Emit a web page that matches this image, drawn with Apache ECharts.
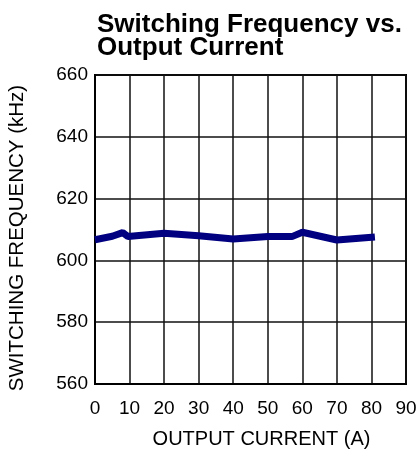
<!DOCTYPE html>
<html>
<head>
<meta charset="utf-8">
<script src="https://cdn.jsdelivr.net/npm/echarts@6/dist/echarts.min.js"></script>
<style>
  html, body { margin: 0; padding: 0; background: #fff; }
  #chart { width: 417px; height: 449px; }
</style>
</head>
<body>
<div id="chart"></div>
<script>
// 输出电流 (A)
const currentA = [0, 5, 8, 9.5, 20, 30, 40, 50, 57, 60, 70, 81];
// 开关频率 (kHz)
const freqKHz = [606.7, 607.8, 609, 607.7, 608.8, 608, 606.9, 607.7, 607.7, 609.1, 606.6, 607.6];
const xTicks = [0, 10, 20, 30, 40, 50, 60, 70, 80, 90];
const yTicks = [560, 580, 600, 620, 640, 660];

const myChart = echarts.init(document.getElementById("chart"));
const font = "Liberation Sans, Arial, sans-serif";

const option = {
  animation: false,
  title: {
    text: "Switching Frequency vs.\nOutput Current",
    left: 92,
    top: 8,
    textStyle: {
      fontFamily: font,
      fontWeight: "bold",
      fontSize: 26,
      lineHeight: 23,
      color: "#000",
    },
  },
  grid: {
    left: 95,
    right: 11,
    top: 75,
    bottom: 65,
    outerBoundsMode: "none",
    containLabel: false,
    show: true,
    borderColor: "#000",
    borderWidth: 2,
  },
  xAxis: {
    type: "value",
    min: xTicks[0],
    max: xTicks[xTicks.length - 1],
    interval: 10,
    name: "OUTPUT CURRENT (A)",
    nameLocation: "middle",
    nameGap: 45,
    nameTextStyle: { fontFamily: font, fontSize: 20, color: "#000", padding: [0, 0, 0, 22] },
    axisLine: { lineStyle: { color: "#000", width: 2 } },
    axisTick: { show: false },
    axisLabel: { fontFamily: font, fontSize: 19, color: "#000", margin: 15 },
    splitLine: { lineStyle: { color: "#111", width: 1.5 } },
  },
  yAxis: {
    type: "value",
    min: yTicks[0],
    max: yTicks[yTicks.length - 1],
    interval: 20,
    name: "SWITCHING FREQUENCY (kHz)",
    nameLocation: "middle",
    nameRotate: 90,
    nameGap: 67,
    nameTextStyle: { fontFamily: font, fontSize: 20.5, color: "#000", padding: [0, 17, 0, 0] },
    axisLine: { show: true, lineStyle: { color: "#000", width: 2 } },
    axisTick: { show: false },
    axisLabel: { fontFamily: font, fontSize: 19, color: "#000", margin: 7 },
    splitLine: { lineStyle: { color: "#111", width: 1.5 } },
  },
  series: [
    {
      type: "line",
      data: currentA.map((x, i) => [x, freqKHz[i]]),
      symbol: "none",
      lineStyle: { color: "#000080", width: 7 },
    },
  ],
};
myChart.setOption(option);
</script>
</body>
</html>
